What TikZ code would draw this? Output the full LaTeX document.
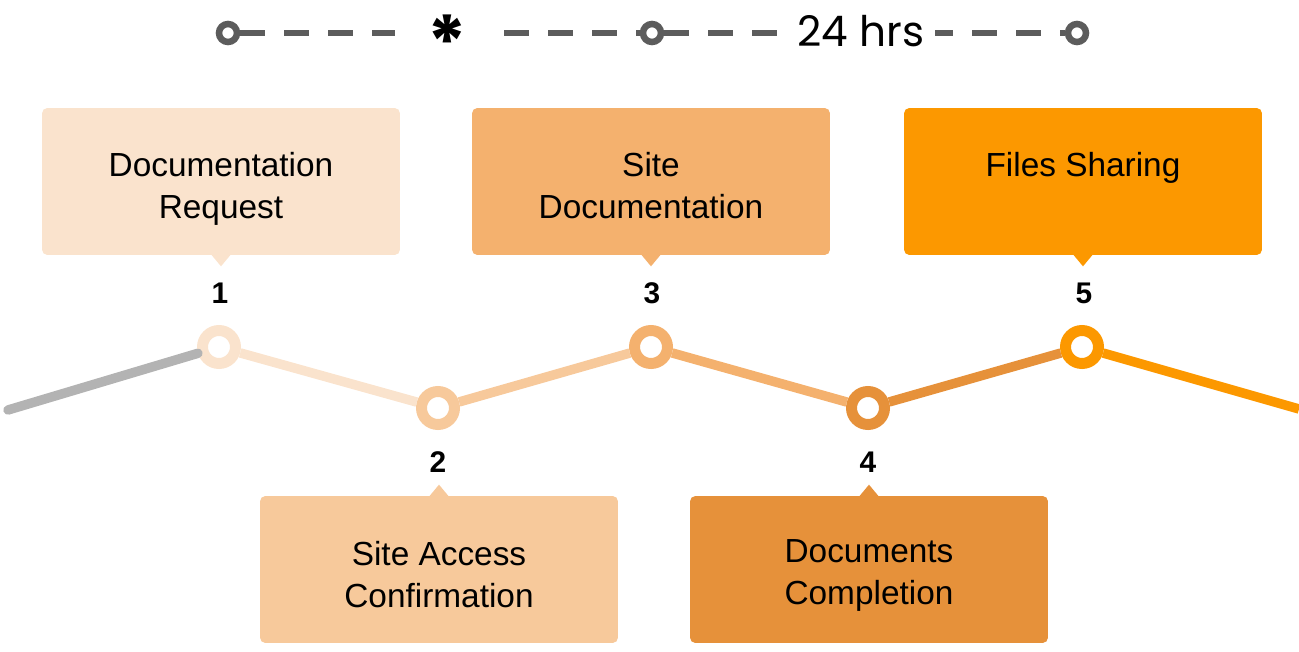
\documentclass[tikz,border=0pt]{standalone}
\usepackage{fontspec}
\setmainfont{Liberation Sans}
\newfontfamily\popfont{Poppins}
\usepackage{tikz}
\usetikzlibrary{positioning,calc}

\definecolor{stepA}{HTML}{FAE3CD}
\definecolor{stepB}{HTML}{F7C99B}
\definecolor{stepC}{HTML}{F4B16E}
\definecolor{stepD}{HTML}{E6913A}
\definecolor{stepE}{HTML}{FC9800}
\definecolor{trailgray}{HTML}{B3B3B3}
\definecolor{topgray}{HTML}{5C5C5C}

\tikzset{
  stepbox/.style={rounded corners=3pt, minimum width=7.16cm, minimum height=2.94cm, inner sep=0},
  boxtext/.style={font=\fontsize{19}{23.9}\selectfont, align=center, anchor=north, inner sep=0, text=black},
  ring/.style={circle, draw, fill=white, line width=0.22cm, minimum size=0.66cm, inner sep=0},
  seg/.style={line width=0.19cm},
  num/.style={font=\fontsize{17}{20}\selectfont\bfseries, anchor=base, inner sep=0},
  dot/.style={circle, draw=topgray, fill=white, line width=0.13cm, minimum size=0.36cm, inner sep=0},
  topline/.style={draw=topgray, line width=0.12cm, dash pattern=on 0.5cm off 0.38cm},
}

\begin{document}
\begin{tikzpicture}[x=0.02cm, y=-0.02cm]

\useasboundingbox (0,0) rectangle (1299,652);

\node[dot] (t0) at (228,33) {};
\node[dot] (t1) at (652,33) {};
\node[dot] (t2) at (1077,33) {};
\draw[topline] (t0) -- (t1);
\draw[topline] (t1) -- (t2);
\node[fill=white, minimum width=2.08cm, minimum height=0.8cm, inner sep=0, text height=0pt, text depth=0pt,
  font=\popfont\fontsize{42}{42}\selectfont\bfseries] (star) at (447,33) {\raisebox{-0.49em}{*}};
\node[fill=white, minimum width=2.96cm, inner sep=0, font=\popfont\fontsize{24}{26}\selectfont] (hrs) at (861,31) {24 hrs};

\node[ring, draw=stepA] (p1) at (219,347) {};
\node[ring, draw=stepB] (p2) at (438,408) {};
\node[ring, draw=stepC] (p3) at (651,347) {};
\node[ring, draw=stepD] (p4) at (868,408) {};
\node[ring, draw=stepE] (p5) at (1082,347) {};
\coordinate (start) at (8,410);
\coordinate (finish) at (1299,409);

\draw[seg, trailgray, line cap=round] (start) -- (p1);
\draw[seg, stepA] (p1) -- (p2);
\draw[seg, stepB] (p2) -- (p3);
\draw[seg, stepC] (p3) -- (p4);
\draw[seg, stepD] (p4) -- (p5);
\draw[seg, stepE] (p5) -- (finish);

\node[stepbox, fill=stepA] (b1) at (221,181.5) {};
\node[stepbox, fill=stepB] (b2) at (439,569.5) {};
\node[stepbox, fill=stepC] (b3) at (651,181.5) {};
\node[stepbox, fill=stepD] (b4) at (869,569.5) {};
\node[stepbox, fill=stepE] (b5) at (1083,181.5) {};

\fill[stepA] ($(b1.south)+(-10,-1)$) -- ++(10,12) -- ++(10,-12) -- cycle;
\fill[stepC] ($(b3.south)+(-10,-1)$) -- ++(10,12) -- ++(10,-12) -- cycle;
\fill[stepE] ($(b5.south)+(-10,-1)$) -- ++(10,12) -- ++(10,-12) -- cycle;
\fill[stepB] ($(b2.north)+(-10,1)$) -- ++(10,-12) -- ++(10,12) -- cycle;
\fill[stepD] ($(b4.north)+(-10,1)$) -- ++(10,-12) -- ++(10,12) -- cycle;

\node[boxtext] (l1) at ($(b1.north)+(0,44)$) {Documentation\\Request};
\node[boxtext] (l2) at ($(b2.north)+(0,45)$) {Site Access\\Confirmation};
\node[boxtext] (l3) at ($(b3.north)+(0,44)$) {Site\\Documentation};
\node[boxtext] (l4) at ($(b4.north)+(0,44)$) {Documents\\Completion};
\node[boxtext] (l5) at ($(b5.north)+(0,44)$) {Files Sharing};

\node[num] (n1) at (220,303) {1};
\node[num] (n2) at (438,472) {2};
\node[num] (n3) at (652,303) {3};
\node[num] (n4) at (868,472) {4};
\node[num] (n5) at (1084,303) {5};

\end{tikzpicture}
\end{document}
